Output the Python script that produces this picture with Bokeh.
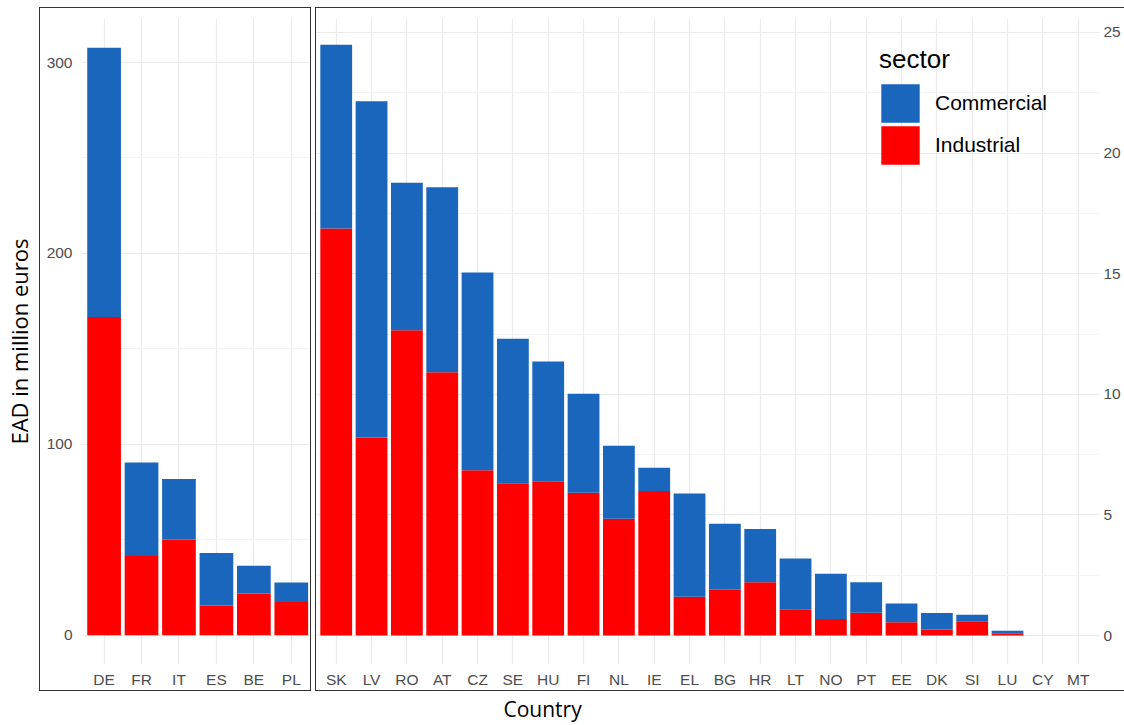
from bokeh.plotting import figure
from bokeh.models import (Range1d, FixedTicker, SingleIntervalTicker, ColumnDataSource,
                          Legend, LegendItem, Title)
from bokeh.layouts import row
from bokeh.embed import file_html
from bokeh.resources import INLINE

# ---- data (million euros) ----
left_countries = ["DE", "FR", "IT", "ES", "BE", "PL"]
left_industrial = [166.7, 41.4, 50.1, 15.5, 21.8, 17.4]
left_commercial = [141.0, 49.1, 31.7, 27.6, 14.5, 10.2]

right_countries = ["SK", "LV", "RO", "AT", "CZ", "SE", "HU", "FI", "NL", "IE", "EL",
                   "BG", "HR", "LT", "NO", "PT", "EE", "DK", "SI", "LU", "CY", "MT"]
right_industrial = [16.87, 8.21, 12.66, 10.92, 6.85, 6.31, 6.40, 5.92, 4.84, 5.99, 1.61,
                    1.90, 2.21, 1.09, 0.69, 0.95, 0.55, 0.25, 0.59, 0.07, 0.0, 0.0]
right_commercial = [7.62, 13.94, 6.11, 7.66, 8.20, 5.99, 4.96, 4.10, 3.03, 0.97, 4.28,
                    2.73, 2.21, 2.10, 1.87, 1.26, 0.78, 0.68, 0.27, 0.13, 0.0, 0.0]

sectors = ["Industrial", "Commercial"]
sector_colors = {"Commercial": "#1A66BD", "Industrial": "#FF0000"}
legend_order = ["Commercial", "Industrial"]
GRID = "#EBEBEB"
MINOR = "#F4F4F4"
TICK_FONT = "Liberation Sans"
TITLE_FONT = "Open Sans"


def box_css(left, top, width, height, right_border=True):
    rb = "" if right_border else "border-right: none;"
    return (":host { position: relative; } "
            ":host::after { content: ''; position: absolute; "
            f"left: {left}px; top: {top}px; width: {width}px; height: {height}px; "
            "border: 1px solid #333333; " + rb +
            " box-sizing: border-box; pointer-events: none; z-index: 10; }")


def style(p, interval):
    p.background_fill_color = "white"
    p.border_fill_color = "white"
    p.outline_line_color = None
    for ax in p.axis:
        ax.axis_line_color = None
        ax.major_tick_line_color = None
        ax.minor_tick_line_color = None
        ax.major_tick_out = 0
        ax.major_tick_in = 0
        ax.minor_tick_out = 0
        ax.minor_tick_in = 0
        ax.major_label_text_color = "#4D4D4D"
        ax.major_label_text_font = TICK_FONT
        ax.major_label_text_font_size = "15.5px"
    p.yaxis.ticker = SingleIntervalTicker(interval=interval, num_minor_ticks=2)
    p.ygrid.grid_line_color = GRID
    p.ygrid.grid_line_width = 1.2
    p.ygrid.minor_grid_line_color = MINOR
    p.ygrid.minor_grid_line_width = 1
    p.xgrid.grid_line_color = GRID
    p.xgrid.grid_line_width = 1.2
    p.xaxis.major_label_standoff = 6


def bars(p, countries, industrial, commercial):
    n = len(countries)
    src = ColumnDataSource(dict(x=list(range(n)), Industrial=industrial, Commercial=commercial))
    p.vbar_stack(sectors, x="x", width=0.9, source=src,
                 fill_color=[sector_colors[s] for s in sectors], line_color=None)
    p.xaxis.ticker = FixedTicker(ticks=list(range(n)))
    p.xaxis.major_label_overrides = {i: c for i, c in enumerate(countries)}
    return src


H = 725

# ---- left panel ----
lmax = max(i + c for i, c in zip(left_industrial, left_commercial))
pL = figure(width=313, height=H, output_backend="svg", toolbar_location=None,
            x_range=Range1d(-0.603, len(left_countries) - 0.514),
            y_range=Range1d(-0.05 * lmax, 1.05 * lmax),
            min_border_left=80, min_border_right=4, min_border_top=18, min_border_bottom=61,
            stylesheets=[box_css(39, 7, 272, 684)])
bars(pL, left_countries, left_industrial, left_commercial)
style(pL, 100)
pL.yaxis.major_label_standoff = 9
pL.yaxis.axis_label = "EAD in million euros"
pL.yaxis.axis_label_text_font = TITLE_FONT
pL.yaxis.axis_label_text_font_size = "22px"
pL.yaxis.axis_label_text_font_style = "normal"
pL.yaxis.axis_label_text_color = "black"
pL.yaxis.axis_label_standoff = 10

# ---- right panel ----
rmax = max(i + c for i, c in zip(right_industrial, right_commercial))
pR = figure(width=811, height=H, output_backend="svg", toolbar_location=None,
            y_axis_location="right",
            x_range=Range1d(-0.558, len(right_countries) - 1 + 0.603),
            y_range=Range1d(-0.049 * rmax, 1.0445 * rmax),
            min_border_left=3, min_border_right=25, min_border_top=18, min_border_bottom=61,
            stylesheets=[box_css(2, 7, 809, 684, right_border=False)])
srcR = bars(pR, right_countries, right_industrial, right_commercial)
style(pR, 5)
pR.yaxis.major_label_standoff = 4

# legend keys: hidden copies of the bars, with a matching outline so the key squares are larger
key_renderers = {s: pR.vbar(x="x", top=s, width=0.9, source=srcR, visible=False,
                            fill_color=sector_colors[s], line_color=sector_colors[s],
                            line_width=4.8, line_join="miter")
                 for s in legend_order}
legend = Legend(items=[LegendItem(label=s, renderers=[key_renderers[s]]) for s in legend_order],
                title="sector", location=(563, 498),
                title_text_font=TICK_FONT, title_text_font_size="26px",
                title_text_font_style="normal", title_text_color="black",
                title_standoff=7,
                label_text_font=TICK_FONT, label_text_font_size="21px",
                label_text_color="black", label_standoff=14,
                glyph_width=42, glyph_height=42, spacing=0,
                padding=0, margin=0, border_line_color=None,
                background_fill_alpha=0, inactive_fill_alpha=0)
pR.add_layout(legend)

pR.add_layout(Title(text="Country", align="left", offset=187, standoff=5,
                    text_font=TITLE_FONT, text_font_size="21px",
                    text_font_style="normal", text_color="black"), "below")

layout = row(pL, pR)
open("out.html", "w").write(file_html(layout, INLINE))
